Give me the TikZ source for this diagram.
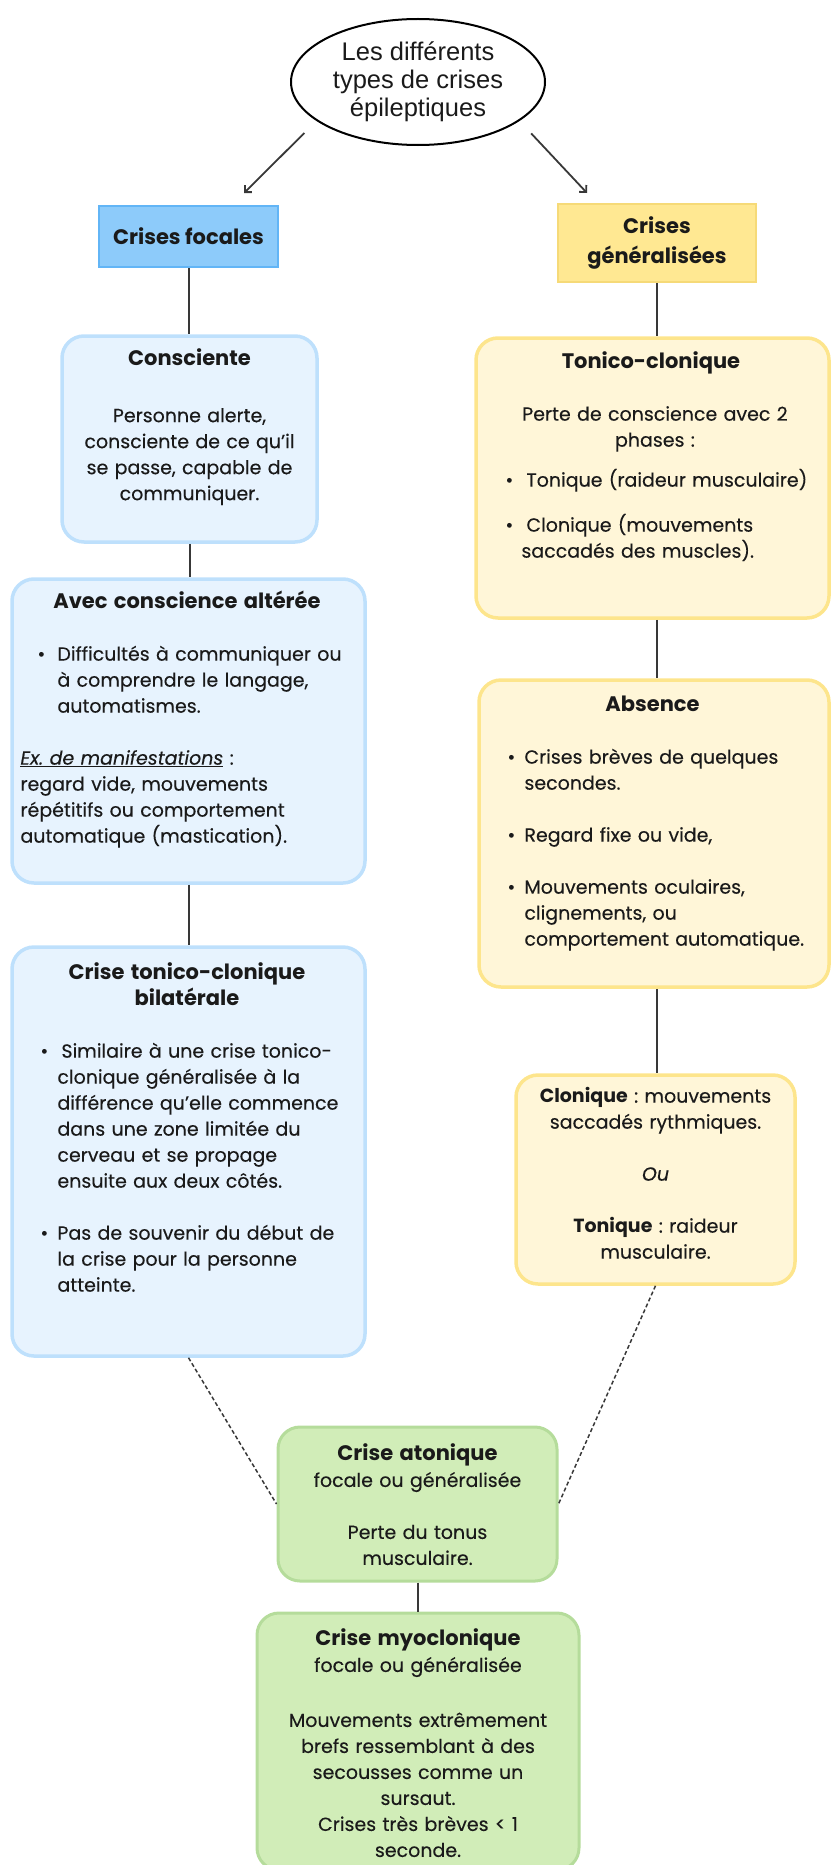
\documentclass[tikz,border=0pt]{standalone}
\usepackage{fontspec}
\setmainfont{Poppins}[UprightFeatures={FakeBold=0.25},ItalicFeatures={FakeBold=0.25}]
\newfontfamily\ellfont{Liberation Sans}
\usetikzlibrary{shapes.geometric,arrows.meta}
\frenchspacing
\definecolor{bluefill}{HTML}{E7F3FE}
\definecolor{blueline}{HTML}{BEE0FC}
\definecolor{focfill}{HTML}{8DCBFA}
\definecolor{focline}{HTML}{62B5F6}
\definecolor{yelfill}{HTML}{FFF6D8}
\definecolor{yelline}{HTML}{FDE58C}
\definecolor{genfill}{HTML}{FFE892}
\definecolor{genline}{HTML}{F6DA78}
\definecolor{grnfill}{HTML}{D1EDB8}
\definecolor{grnline}{HTML}{B5DC9B}
\definecolor{conn}{HTML}{383838}
\definecolor{txtc}{HTML}{1A1A1A}
\newcommand{\bitem}[3]{\par\noindent\hangindent=#2\hangafter=1\hspace*{#1}\makebox[\dimexpr#2-#1\relax][l]{\textbullet}#3\par}
\newcommand{\ttl}[1]{{\fontsize{21}{26}\selectfont\bfseries #1}}
\newlength{\blank}\setlength{\blank}{26pt}
\begin{document}
\begin{tikzpicture}[x=1pt,y=-1pt,
  boxbase/.style={rounded corners=22pt, line width=3.5pt, inner sep=0pt},
  bluebox/.style={boxbase, draw=blueline, fill=bluefill},
  yelbox/.style={boxbase, draw=yelline, fill=yelfill},
  grnbox/.style={boxbase, draw=grnline, fill=grnfill, line width=3pt},
  txt/.style={inner sep=0pt, anchor=north, text=txtc, font=\fontsize{19}{26}\selectfont, execute at begin node={\setlength{\parindent}{0pt}}},
  ltxt/.style={txt, anchor=north west, text width=420pt, align=left},
  ctxt/.style={txt, align=center},
  conline/.style={draw=conn, line width=2pt},
  dashline/.style={draw=conn, line width=1.5pt, dash pattern=on 4pt off 2.5pt},
  arr/.style={draw=conn, line width=1.8pt, -{Straight Barb[length=5pt,width=10pt]}},
]
\useasboundingbox (0,0) rectangle (831,1865);
\clip (0,0) rectangle (831,1865);

% top
\node[ellipse, draw=black, line width=2pt, minimum width=254pt, minimum height=126pt, inner sep=0pt, align=center, text=txtc, font=\ellfont\fontsize{25.5}{28}\selectfont] (ell) at (418,82) {Les différents\\types de crises\\épileptiques};
\node[draw=focline, fill=focfill, line width=2pt, minimum width=179pt, minimum height=61pt, text=txtc, font=\bfseries\fontsize{21}{30}\selectfont] (focal) at (188.5,236.5) {Crises focales};
\node[draw=genline, fill=genfill, line width=2pt, minimum width=198pt, minimum height=78pt, align=center, text=txtc, font=\bfseries\fontsize{21}{30}\selectfont] (gen) at (657,243) {Crises\\généralisées};

% left column
\node[bluebox, minimum width=255pt, minimum height=206pt] (consc) at (189.5,439) {};
\node[bluebox, minimum width=353pt, minimum height=304pt] (avec) at (188.5,731) {};
\node[bluebox, minimum width=353pt, minimum height=409pt] (bilat) at (188.5,1151.5) {};

% right column
\node[yelbox, minimum width=353pt, minimum height=280pt] (tonico) at (652.5,478) {};
\node[yelbox, minimum width=350pt, minimum height=307pt] (absence) at (654,833.5) {};
\node[yelbox, minimum width=279pt, minimum height=209pt] (clon) at (655.5,1179.5) {};

% bottom
\node[grnbox, minimum width=279pt, minimum height=154pt] (aton) at (417.5,1504) {};
\node[grnbox, minimum width=322pt, minimum height=257pt] (myo) at (418,1741.5) {};

% texts
\node[ctxt, text width=245pt] (tconsc) at ([yshift=-12.5pt]consc.north) {\strut\ttl{Consciente}\\[31pt]Personne alerte,\\consciente de ce qu’il\\se passe, capable de\\communiquer.};

\node[ltxt] (tavec) at ([xshift=10pt,yshift=-13pt]avec.north west) {\strut\makebox[333pt]{\ttl{Avec conscience altérée}}\par
\vspace{\blank}
\bitem{17pt}{37pt}{Difficultés à communiquer ou\newline à comprendre le langage,\newline automatismes.}
\vspace{\blank}
\underline{\textit{Ex. de manifestations}} :\newline regard vide, mouvements\newline répétitifs ou comportement\newline automatique (mastication).};

\node[ltxt] (tbilat) at ([xshift=10pt,yshift=-16pt]bilat.north west) {\strut\makebox[333pt]{\ttl{Crise tonico-clonique}}\newline\makebox[333pt]{\ttl{bilatérale}}\par
\vspace{\blank}
\bitem{20pt}{37pt}{\hspace{4pt}Similaire à une crise tonico-\newline clonique généralisée à la\newline différence qu’elle commence\newline dans une zone limitée du\newline cerveau et se propage\newline ensuite aux deux côtés.}
\vspace{\blank}
\bitem{20pt}{37pt}{Pas de souvenir du début de\newline la crise pour la personne\newline atteinte.}};

\node[ltxt] (ttonico) at ([xshift=10pt,yshift=-14pt]tonico.north west) {\strut\makebox[333pt]{\ttl{Tonico-clonique}}\par
\vspace{\blank}
\makebox[341pt]{Perte de conscience avec 2}\newline\makebox[341pt]{phases :}\par
\vspace{14pt}
\bitem{21pt}{37pt}{\hspace{5pt}Tonique (raideur musculaire)}
\vspace{19pt}
\bitem{21pt}{37pt}{\hspace{5pt}Clonique (mouvements\newline saccadés des muscles).}};

\node[ltxt] (tabsence) at ([xshift=10pt,yshift=-15pt]absence.north west) {\strut\makebox[330pt]{\ttl{Absence}}\par
\vspace{\blank}
\bitem{20pt}{37pt}{Crises brèves de quelques\newline secondes.}
\vspace{\blank}
\bitem{20pt}{37pt}{Regard fixe ou vide,}
\vspace{\blank}
\bitem{20pt}{37pt}{Mouvements oculaires,\newline clignements, ou\newline comportement automatique.}};

\node[ctxt, text width=269pt] (tclon) at ([yshift=-11pt]clon.north) {\strut\textbf{Clonique} : mouvements\\saccadés rythmiques.\\[\blank]\textit{Ou}\\[\blank]\textbf{Tonique} : raideur\\musculaire.};

\node[ctxt, text width=269pt] (taton) at ([yshift=-17pt]aton.north) {\strut\ttl{Crise atonique}\\focale ou généralisée\\[\blank]Perte du tonus\\musculaire.};

\node[ctxt, text width=312pt] (tmyo) at ([yshift=-16pt]myo.north) {\strut\ttl{Crise myoclonique}\\focale ou généralisée\\[29pt]Mouvements extrêmement\\brefs ressemblant à des\\secousses comme un\\sursaut.\\Crises très brèves < 1\\seconde.};

% connectors
\coordinate (a1e) at (244,193);
\coordinate (a2e) at (587,193);
\draw[arr, shorten <=17pt] (ell.201) -- (a1e);
\draw[arr, shorten <=17pt] (ell.339) -- (a2e);
\draw[conline] (focal.south) -- (focal.south |- consc.north);
\draw[conline] (consc.south) -- (consc.south |- avec.north);
\draw[conline] (avec.south) -- (avec.south |- bilat.north);
\draw[conline] (gen.south) -- (gen.south |- tonico.north);
\draw[conline] (gen.south |- tonico.south) -- (gen.south |- absence.north);
\draw[conline] (gen.south |- absence.south) -- (gen.south |- clon.north);
\draw[conline] (aton.south) -- (aton.south |- myo.north);
\draw[dashline] (bilat.south) -- (aton.west);
\draw[dashline] (clon.south) -- (aton.east);
\end{tikzpicture}
\end{document}
